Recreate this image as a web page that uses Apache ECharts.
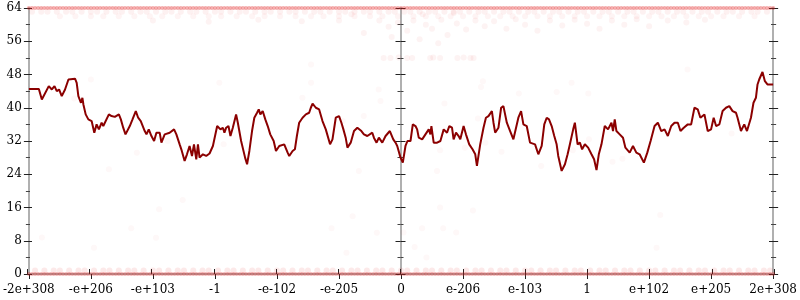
<!DOCTYPE html>
<html>
<head>
<meta charset="utf-8">
<script src="https://cdn.jsdelivr.net/npm/echarts@6/dist/echarts.min.js"></script>
<style>html,body{margin:0;padding:0;background:#fff}#c{width:800px;height:300px}</style>
</head>
<body>
<div id="c"></div>
<script>
// ---- data ----
const xTickLabels = ['-2e+308','-e+206','-e+103','-1','-e-102','-e-205','0','e-206','e-103','1','e+102','e+205','2e+308'];
const yTicks = [0, 8, 16, 24, 32, 40, 48, 56, 64];

const lineX = [-6.00,-5.839,-5.791,-5.679,-5.630,-5.587,-5.550,-5.513,-5.470,-5.417,-5.390,-5.362,-5.256,-5.229,-5.202,-5.160,-5.137,-5.121,-5.084,-5.041,-5.015,-4.988,-4.945,-4.908,-4.871,-4.827,-4.800,-4.774,-4.710,-4.667,-4.614,-4.549,-4.517,-4.479,-4.442,-4.373,-4.329,-4.276,-4.238,-4.196,-4.132,-4.104,-4.067,-4.024,-3.981,-3.944,-3.891,-3.863,-3.810,-3.730,-3.659,-3.622,-3.569,-3.542,-3.489,-3.451,-3.409,-3.370,-3.338,-3.301,-3.274,-3.248,-3.194,-3.141,-3.087,-3.033,-3.007,-2.964,-2.911,-2.872,-2.847,-2.819,-2.782,-2.750,-2.712,-2.659,-2.631,-2.578,-2.514,-2.482,-2.445,-2.402,-2.365,-2.321,-2.294,-2.268,-2.230,-2.188,-2.149,-2.108,-2.053,-2.016,-1.963,-1.883,-1.828,-1.802,-1.748,-1.711,-1.679,-1.642,-1.587,-1.534,-1.481,-1.454,-1.426,-1.373,-1.320,-1.266,-1.213,-1.186,-1.144,-1.105,-1.052,-0.999,-0.961,-0.929,-0.892,-0.864,-0.811,-0.758,-0.704,-0.639,-0.598,-0.543,-0.463,-0.437,-0.394,-0.357,-0.302,-0.249,-0.180,-0.125,-0.088,-0.061,-0.008,0.029,0.072,0.104,0.153,0.190,0.233,0.260,0.286,0.341,0.394,0.447,0.474,0.490,0.527,0.582,0.635,0.688,0.742,0.779,0.822,0.848,0.887,0.929,0.956,1.009,1.047,1.100,1.153,1.197,1.224,1.277,1.330,1.369,1.410,1.465,1.491,1.518,1.571,1.614,1.651,1.706,1.759,1.812,1.892,1.936,1.973,2.027,2.080,2.161,2.214,2.268,2.310,2.349,2.386,2.429,2.471,2.509,2.535,2.590,2.643,2.686,2.723,2.776,2.803,2.847,2.884,2.920,2.964,3.017,3.071,3.113,3.152,3.189,3.232,3.285,3.338,3.393,3.418,3.446,3.473,3.526,3.579,3.618,3.687,3.740,3.794,3.847,3.916,3.971,4.024,4.088,4.141,4.196,4.249,4.302,4.357,4.410,4.463,4.506,4.559,4.623,4.678,4.731,4.784,4.827,4.892,4.945,4.999,5.041,5.080,5.133,5.185,5.240,5.293,5.346,5.401,5.426,5.481,5.534,5.578,5.598,5.642,5.683,5.722,5.748,5.775,5.828,5.867,5.908,6.00];
const lineY = [44.5,44.5,42,45.2,44.4,45.2,44,44.4,42.8,44.4,44.8,46.8,47,46,42.8,41.2,42.4,40.8,38.4,37.2,37.6,36.8,34,36,34.8,36.4,35.6,35.6,38.4,38,37.8,38.4,37.2,35.2,33.6,35.6,37.2,39.2,37.6,36.8,34.4,33.6,34.8,33.2,32,34,34,31.6,33.6,34,34.8,33.6,31.2,30,27.2,28.8,30.8,28.4,31.2,27.6,31.2,28,28.8,28.4,29,30.8,31.2,35.6,34.8,35.2,34,35.2,35.6,33.2,35.2,38.4,36.4,32,28,26.4,29.6,34.4,37.6,38.8,39.6,38.4,39.2,37.2,35.6,33.6,32,29.6,30.8,31.2,29.2,28.4,29.6,30,33.2,36.4,37.6,38.4,38.8,40,41,40,39.6,36.8,34.8,34.4,31.2,32.4,37.6,38,36.4,34.8,32.8,30.4,31.6,34.4,35.2,34.4,33.6,33.2,34,32.8,31.6,32.8,31.6,33.2,34.4,32.4,31.6,30.8,28,26.8,30.8,32,32,36,35.6,34.8,32.8,32.4,33.6,34.8,33.6,35.6,31.6,31.6,32,34.8,34,35.6,35.2,32.4,34,33.2,32.4,35.6,33.6,31.2,30,28.8,26,31.2,35.2,37.6,38,39.2,36.4,34,35.2,40,40.4,36.4,34.4,32.4,37.6,39.2,36,35.6,31.6,31.2,28.8,30.8,36,37.6,37.2,35.6,33.2,31.2,28.4,24.8,26.4,28.8,31.2,34.8,36.4,31.2,31.6,30,31.2,30.4,28.8,27.6,25,28.8,31.2,35.6,34.8,36.4,34.4,37.2,34.4,33.6,32.8,30.4,29.2,30.8,29.2,28.8,26.8,29.2,32,35.6,36.4,34.4,34.8,33.2,35.6,36.4,36.4,34.4,35.2,36,36,40,39.6,37.6,38.4,34.4,34.8,37.6,35.6,36,39.2,40,40.4,39.2,38.8,37.6,34.4,36,34.4,34,37.6,41.2,42.4,45.6,46.8,48.6,46.4,45.6,45.6];

// faint scatter: rows of points at the top (64, ~63, ~62) and bottom (0, ~1)
const edgeXa = [-6.0,-5.9,-5.8,-5.7,-5.6,-5.5,-5.4,-5.3,-5.2,-5.1,-5.0,-4.9,-4.8,-4.7,-4.6,-4.5,-4.4,-4.3,-4.2,-4.1,-4.0,-3.9,-3.8,-3.7,-3.6,-3.5,-3.4,-3.3,-3.2,-3.1,-3.0,-2.9,-2.8,-2.7,-2.6,-2.5,-2.4,-2.3,-2.2,-2.1,-2.0,-1.9,-1.8,-1.7,-1.6,-1.5,-1.4,-1.3,-1.2,-1.1,-1.0,-0.9,-0.8,-0.7,-0.6,-0.5,-0.4,-0.3,-0.2,-0.1,0.0,0.1,0.2,0.3,0.4,0.5,0.6,0.7,0.8,0.9,1.0,1.1,1.2,1.3,1.4,1.5,1.6,1.7,1.8,1.9,2.0,2.1,2.2,2.3,2.4,2.5,2.6,2.7,2.8,2.9,3.0,3.1,3.2,3.3,3.4,3.5,3.6,3.7,3.8,3.9,4.0,4.1,4.2,4.3,4.4,4.5,4.6,4.7,4.8,4.9,5.0,5.1,5.2,5.3,5.4,5.5,5.6,5.7,5.8,5.9,6.0];
const edgeXb = [-5.95,-5.85,-5.75,-5.65,-5.55,-5.45,-5.35,-5.25,-5.15,-5.05,-4.95,-4.85,-4.75,-4.65,-4.55,-4.45,-4.35,-4.25,-4.15,-4.05,-3.95,-3.85,-3.75,-3.65,-3.55,-3.45,-3.35,-3.25,-3.15,-3.05,-2.95,-2.85,-2.75,-2.65,-2.55,-2.45,-2.35,-2.25,-2.15,-2.05,-1.95,-1.85,-1.75,-1.65,-1.55,-1.45,-1.35,-1.25,-1.15,-1.05,-0.95,-0.85,-0.75,-0.65,-0.55,-0.45,-0.35,-0.25,-0.15,-0.05,0.05,0.15,0.25,0.35,0.45,0.55,0.65,0.75,0.85,0.95,1.05,1.15,1.25,1.35,1.45,1.55,1.65,1.75,1.85,1.95,2.05,2.15,2.25,2.35,2.45,2.55,2.65,2.75,2.85,2.95,3.05,3.15,3.25,3.35,3.45,3.55,3.65,3.75,3.85,3.95,4.05,4.15,4.25,4.35,4.45,4.55,4.65,4.75,4.85,4.95,5.05,5.15,5.25,5.35,5.45,5.55,5.65,5.75,5.85,5.95];
const top63X = [-5.95,-5.8,-5.7,-5.55,-5.4,-5.3,-5.15,-5.0,-4.9,-4.75,-4.6,-4.5,-4.35,-4.2,-4.1,-3.95,-3.8,-3.7,-3.55,-3.4,-3.3,-3.15,-3.0,-2.9,-2.75,-2.6,-2.5,-2.35,-2.2,-2.1,-1.95,-1.8,-1.7,-1.55,-1.4,-1.3,-1.15,-1.0,-0.9,-0.75,-0.6,-0.5,-0.35,-0.2,-0.1,0.05,0.15,0.3,0.45,0.55,0.7,0.85,0.95,1.1,1.25,1.35,1.5,1.65,1.75,1.9,2.05,2.15,2.3,2.45,2.55,2.7,2.85,2.95,3.1,3.25,3.35,3.5,3.65,3.75,3.9,4.05,4.15,4.3,4.45,4.55,4.7,4.85,4.95,5.1,5.25,5.35,5.5,5.65,5.75,5.9];
const top62X = [-5.5,-5.25,-5.0,-4.8,-4.55,-4.3,-4.05,-3.85,-3.6,-3.35,-3.1,-2.9,-2.65,-2.4,-2.2,-1.95,-1.7,-1.45,-1.25,-1.0,-0.75,-0.5,-0.3,-0.05,0.2,0.4,0.6,0.8,1.0,1.2,1.4,1.6,1.8,2.0,2.2,2.4,2.6,2.8,3.0,3.2,3.4,3.6,3.8,4.0,4.2,4.4,4.6,4.8,5.0,5.2,5.45,5.7];
const topBand = [[-0.35,61],[-0.2,59.5],[-0.05,60.5],[0.1,58.5],[0.2,61],[0.3,56.5],[0.4,60],[0.5,59],[0.65,61.2],[0.75,57.5],[0.9,60.3],[1.05,58.8],[1.2,61],[1.35,59.6],[1.5,60.8],[1.7,59],[1.85,61.3],[2.0,60],[2.2,58.5],[2.4,61],[2.6,59.8],[2.8,61.2],[3.0,60.2],[3.2,59],[3.4,61],[3.6,60],[3.8,61.3],[4.0,59.6],[4.3,61],[4.6,60.5],[4.9,61.2],[-1.0,61],[-1.6,60.8],[-2.3,61.2],[-3.1,60.7],[-4.0,61],[-0.6,58],[0.6,55.5],[-0.15,57],[0.35,62.5],[0.85,62.8],[-0.8,62.5],[-0.28,52],[-0.17,52],[-0.04,52.1],[0.10,52],[0.18,52],[0.47,52],[0.52,52.1],[0.63,52],[0.91,52],[1.01,52.1],[1.12,52],[1.17,52]];
const bot1X = [-5.9,-5.75,-5.6,-5.5,-5.35,-5.2,-5.1,-4.95,-4.8,-4.7,-4.55,-4.4,-4.3,-4.15,-4.0,-3.9,-3.75,-3.6,-3.5,-3.35,-3.2,-3.1,-2.95,-2.8,-2.7,-2.55,-2.4,-2.3,-2.15,-2.0,-1.9,-1.75,-1.6,-1.5,-1.35,-1.2,-1.1,-0.95,-0.8,-0.7,-0.55,-0.4,-0.3,-0.15,0.0,0.1,0.25,0.4,0.5,0.65,0.8,0.9,1.05,1.2,1.3,1.45,1.6,1.7,1.85,2.0,2.1,2.25,2.4,2.5,2.65,2.8,2.9,3.05,3.2,3.3,3.45,3.6,3.7,3.85,4.0,4.1,4.25,4.4,4.5,4.65,4.8,4.9,5.05,5.2,5.3,5.45,5.6,5.7,5.85,5.95];
const sparse = [[-5.79,8.8],[-4.95,6.3],[-4.35,11],[-3.9,15.6],[-3.95,8.7],[-3.52,17.8],[4.18,14.2],[4.12,6.3],[-1.12,11],[-0.78,13.9],[-0.39,9.9],[-0.88,5.1],[0.04,10],[0.22,6.5],[0.34,11],[0.41,4],[0.68,11],[0.89,10],[1.16,15.3],[0.63,16],[-5.0,46.8],[-5.27,42.2],[-2.93,46],[-1.45,50.4],[-1.45,46],[-1.59,42.4],[-0.36,44.4],[-0.33,41.6],[-0.6,38],[-0.94,36.8],[-4.26,29.2],[-4.71,25.2],[-2.86,31.2],[-1.83,30.4],[-0.68,24.8],[-3.76,32],[1.32,46.4],[1.29,45],[0.70,41],[1.9,43.4],[2.51,43.8],[2.75,46],[3.02,43.4],[4.62,49.2],[1.24,37.4],[1.36,31.6],[1.62,29.4],[0.63,29.8],[1.03,30.4],[2.26,26],[3.41,27],[3.57,27.7],[3.03,32.4],[5.33,33.8],[0.58,24.8],[2.77,29.8]];

// ---- chart ----
const chart = echarts.init(document.getElementById('c'), null, {renderer: 'canvas'});
const font = {fontFamily: 'DejaVu Serif', fontSize: 12, color: '#000'};
const gridBox = {left: 27, right: 26, top: 8, bottom: 26};
const lineGray = {color: '#b0b0b0', width: 2};
const majorTick = {lineStyle: {color: '#222', width: 1}};
const minorTick = {color: '#444', width: 1};

function yAx(grid, pos, opts) {
  return Object.assign({
    gridIndex: grid, type: 'value', position: pos, min: 0, max: 64, interval: 8,
    splitLine: {show: false}, axisLabel: {show: false},
    axisLine: {show: false, onZero: false},
    axisTick: Object.assign({show: true, length: 5, inside: false}, majorTick),
    minorTick: {show: true, splitNumber: 2, length: 3, lineStyle: minorTick}
  }, opts);
}
function xAx(grid, opts) {
  return Object.assign({
    gridIndex: grid, type: 'value', min: -6, max: 6, interval: 1,
    splitLine: {show: false}, axisLabel: {show: false},
    axisLine: {show: false},
    axisTick: Object.assign({show: true, length: 5, inside: false}, majorTick)
  }, opts);
}

function sc(data, size, alpha, clip) {
  return {type: 'scatter', xAxisIndex: 0, yAxisIndex: 0, symbolSize: size, silent: true, clip: !!clip,
    itemStyle: {color: 'rgba(225,30,30,' + alpha + ')'}, data: data};
}

const option = {
  animation: false,
  backgroundColor: '#fff',
  grid: [gridBox, gridBox, gridBox],
  xAxis: [
    xAx(0, {axisLine: {show: true, onZero: false, lineStyle: lineGray},
      axisLabel: Object.assign({show: true, margin: 10, formatter: v => xTickLabels[Math.round(v) + 6]}, font)}),
    xAx(1, {axisTick: Object.assign({show: true, length: 5, inside: true}, majorTick)}),
    xAx(2, {show: false})
  ],
  yAxis: [
    yAx(0, 'left', {axisLine: {show: true, onZero: false, lineStyle: lineGray},
      axisLabel: Object.assign({show: true, margin: 7, customValues: yTicks}, font)}),
    yAx(0, 'right', {axisLine: {show: true, onZero: false, lineStyle: lineGray}}),
    yAx(1, 'left', {axisTick: Object.assign({show: true, length: 5, inside: true}, majorTick)}),
    yAx(1, 'right', {axisTick: Object.assign({show: true, length: 5, inside: true}, majorTick)}),
    yAx(2, 'left', {axisLine: {show: true, onZero: true, onZeroAxisIndex: 2, lineStyle: lineGray}}),
    yAx(2, 'right', {axisLine: {show: false, onZero: true, onZeroAxisIndex: 2}})
  ],
  series: [
    sc(edgeXa.map(x => [x, 64]), 4, 0.45, false),
    sc(edgeXb.map(x => [x, 64]), 4, 0.45, false),
    sc(top63X.map(x => [x, 63.1]), 6, 0.08, true),
    sc(top62X.map(x => [x, 62]), 6, 0.06, true),
    sc(topBand, 6, 0.07, true),
    sc(edgeXa.map(x => [x, 0]), 4, 0.4, false),
    sc(edgeXb.map(x => [x, 0]), 4, 0.4, false),
    sc(bot1X.map(x => [x, 0.85]), 6, 0.12, true),
    sc(sparse, 6, 0.04, true),
    {type: 'line', xAxisIndex: 0, yAxisIndex: 0, showSymbol: false, silent: true,
      lineStyle: {color: '#8b0000', width: 2}, itemStyle: {color: '#8b0000'},
      data: lineX.map((x, i) => [x, lineY[i]])}
  ]
};
chart.setOption(option);
</script>
</body>
</html>
